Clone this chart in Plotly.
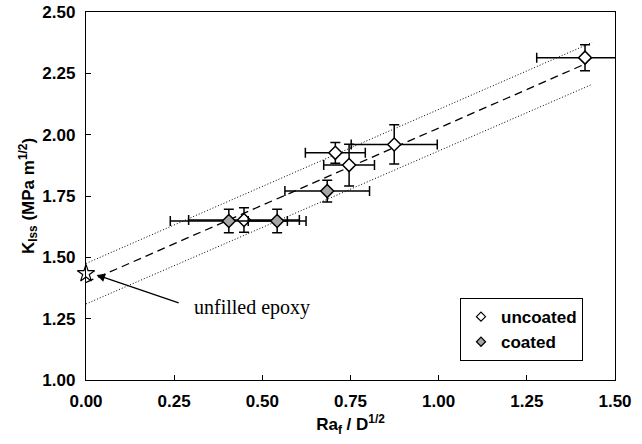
import plotly.graph_objects as go

# ---- data ----
unc_x = [0.448, 0.707, 0.746, 0.874, 1.415]
unc_y = [1.652, 1.926, 1.876, 1.960, 2.314]
unc_ex = [0.157, 0.085, 0.072, 0.122, 0.137]
unc_ey = [0.050, 0.042, 0.085, 0.080, 0.053]

coat_x = [0.405, 0.542, 0.684]
coat_y = [1.648, 1.648, 1.770]
coat_ex = [0.166, 0.082, 0.120]
coat_ey = [0.048, 0.048, 0.044]

epoxy_x = [0.0]
epoxy_y = [1.434]

fit_x = [0.0, 1.42]
fit_y = [1.398, 2.291]
band_x = [0.0, 1.435]
upper_y = [1.475, 2.376]
lower_y = [1.310, 2.205]

x_ticks = [0.0, 0.25, 0.5, 0.75, 1.0, 1.25, 1.5]
y_ticks = [1.0, 1.25, 1.5, 1.75, 2.0, 2.25, 2.5]

SANS = "Liberation Sans, Arial, sans-serif"
SERIF = "Liberation Serif, Times New Roman, serif"
GRAY = "#a6a6a6"

fig = go.Figure()

# confidence band lines
for yy in (upper_y, lower_y):
    fig.add_trace(go.Scatter(x=band_x, y=yy, mode="lines",
                             line=dict(color="black", width=1, dash="1px,2px"),
                             showlegend=False, hoverinfo="skip"))
fig.add_trace(go.Scatter(x=fit_x, y=fit_y, mode="lines",
                         line=dict(color="black", width=1.3, dash="8px,5px"),
                         showlegend=False, hoverinfo="skip"))

# data with error bars
err_style = dict(type="data", color="black", thickness=1.5, width=5)
fig.add_trace(go.Scatter(
    x=unc_x, y=unc_y, mode="markers", name="uncoated", showlegend=False,
    error_x=dict(array=unc_ex, **err_style),
    error_y=dict(array=unc_ey, **err_style),
    marker=dict(symbol="diamond", size=10, color="white",
                line=dict(color="black", width=1.5))))
fig.add_trace(go.Scatter(
    x=coat_x, y=coat_y, mode="markers", name="coated", showlegend=False,
    error_x=dict(array=coat_ex, **err_style),
    error_y=dict(array=coat_ey, **err_style),
    marker=dict(symbol="diamond", size=10, color=GRAY,
                line=dict(color="black", width=1.5))))

# unfilled epoxy star
fig.add_trace(go.Scatter(
    x=epoxy_x, y=epoxy_y, mode="markers", showlegend=False, cliponaxis=False,
    marker=dict(symbol="star-open", size=13, color="black",
                line=dict(color="black", width=1.2))))

# legend-only entries
fig.add_trace(go.Scatter(
    x=[None], y=[None], mode="markers", name="uncoated",
    marker=dict(symbol="diamond", size=7, color="white",
                line=dict(color="black", width=1.2))))
fig.add_trace(go.Scatter(
    x=[None], y=[None], mode="markers", name="coated",
    marker=dict(symbol="diamond", size=7, color=GRAY,
                line=dict(color="black", width=1.2))))

# annotation arrow + text
fig.add_annotation(x=0.030, y=1.428, ax=0.267, ay=1.312,
                   xref="x", yref="y", axref="x", ayref="y",
                   text="", showarrow=True, arrowhead=2, arrowsize=1.3,
                   arrowwidth=1.3, arrowcolor="black")
fig.add_annotation(x=0.300, y=1.297, xref="x", yref="y", text="unfilled epoxy",
                   showarrow=False, xanchor="left", yanchor="middle",
                   font=dict(family=SERIF, size=20, color="black"))

axis_common = dict(
    showgrid=False, zeroline=False, showline=True, linecolor="black",
    linewidth=1.3, mirror=True, ticks="inside", ticklen=5, tickwidth=1,
    tickcolor="black",
    tickfont=dict(family=SANS, size=17, color="black", weight="bold"),
)

fig.update_xaxes(range=[0, 1.5], tickvals=x_ticks,
                 ticktext=[f"{v:.2f}" for v in x_ticks],
                 ticklabelstandoff=5,
                 title=dict(text="Ra<sub>f</sub> / D<sup>1/2</sup>", standoff=8,
                            font=dict(family=SANS, size=17, color="black", weight="bold")),
                 **axis_common)
fig.update_yaxes(range=[1.0, 2.5], tickvals=y_ticks,
                 ticktext=[f"{v:.2f}" for v in y_ticks],
                 ticklabelstandoff=6,
                 title=dict(text="K<sub>Iss</sub> (MPa m<sup>1/2</sup>)", standoff=3,
                            font=dict(family=SANS, size=17, color="black", weight="bold")),
                 **axis_common)

fig.update_layout(
    width=642, height=444,
    margin=dict(l=86, r=27, t=12, b=64, autoexpand=False),
    paper_bgcolor="white", plot_bgcolor="white",
    showlegend=True,
    legend=dict(x=0.707, y=0.2226, xanchor="left", yanchor="top",
                bgcolor="white", bordercolor="black", borderwidth=1,
                font=dict(family=SANS, size=17, color="black", weight="bold")),
)

fig.write_html("out.html")
